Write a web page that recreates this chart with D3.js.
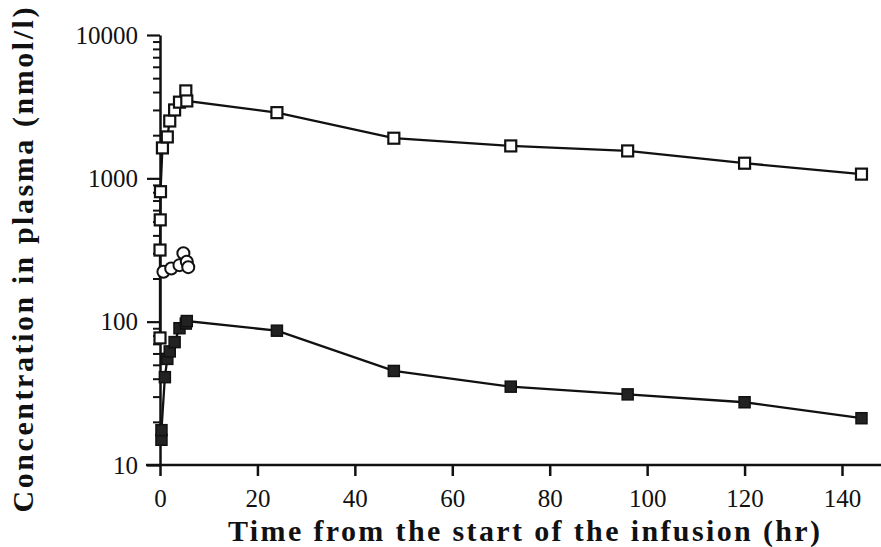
<!DOCTYPE html>
<html>
<head>
<meta charset="utf-8">
<script src="https://cdn.jsdelivr.net/npm/d3@7"></script>
<style>
html,body{margin:0;padding:0;background:#fff;}
svg{display:block;}
text{font-family:"Liberation Serif","Times New Roman",serif;fill:#111;}
</style>
</head>
<body>
<svg id="chart" width="881" height="547"></svg>
<script>
// ---- data ----
const upperTimes  = [0, 0, 0.05, 0.1, 0.5, 1.5, 2, 3, 4, 5.3, 5.5, 24, 48, 72, 96, 120, 144];
const upperValues = [77, 316, 513, 807, 1630, 1945, 2512, 3000, 3400, 4074, 3467, 2873, 1905, 1683, 1553, 1275, 1070];

const lowerTimes  = [0.3, 0.3, 1, 1.5, 2, 3, 4, 5.3, 5.5, 24, 48, 72, 96, 120, 144];
const lowerValues = [15, 17.5, 41, 55, 62, 72, 90, 97, 101, 86.5, 45.3, 35.2, 31.1, 27.4, 21.2];

const circleTimes  = [0.7, 2.3, 4, 4.8, 5.5, 5.8];
const circleValues = [223, 235, 248, 300, 262, 240];

const xTickValues = [0, 20, 40, 60, 80, 100, 120, 140];
const yMajorTicks = [10, 100, 1000, 10000];
const yTickLabels = ["10", "100", "1000", "10000"];
const xTitle = "Time from the start of the infusion (hr)";
const yTitle = "Concentration in plasma (nmol/l)";

// ---- layout ----
const svg = d3.select("#chart");
const W = 881, H = 547;
const x = d3.scaleLinear().domain([0, 140]).range([160, 842]);
const y = d3.scaleLog().domain([10, 10000]).range([465, 35]);

const yMinor = [];
[10, 100, 1000].forEach(d => { for (let k = 2; k <= 9; k++) yMinor.push(d * k); });

const FONT = "'Liberation Serif','Times New Roman',serif";

// y axis: minor ticks
const yMinorAxis = d3.axisLeft(y).tickValues(yMinor).tickSize(7).tickFormat("").tickSizeOuter(0);
const gYm = svg.append("g").attr("transform", `translate(${x(0)},0)`).call(yMinorAxis);
gYm.select(".domain").remove();
gYm.selectAll(".tick line").attr("stroke", "#111").attr("stroke-width", 2);

// y axis: major ticks + labels
const yMajorAxis = d3.axisLeft(y).tickValues(yMajorTicks).tickSize(13)
  .tickFormat((d, i) => yTickLabels[i]).tickPadding(9).tickSizeOuter(0);
const gY = svg.append("g").attr("transform", `translate(${x(0)},0)`).call(yMajorAxis);
gY.select(".domain").attr("stroke", "#111").attr("stroke-width", 2.5);
gY.selectAll(".tick line").attr("stroke", "#111").attr("stroke-width", 2.2);
gY.selectAll(".tick text").attr("font-size", 25).attr("fill", "#111").style("font-family", FONT);

// x axis
const xAxis = d3.axisBottom(x).tickValues(xTickValues).tickSize(11).tickPadding(13).tickSizeOuter(0);
const gX = svg.append("g").attr("transform", `translate(0,${y(10)})`).call(xAxis);
gX.select(".domain").remove();
gX.selectAll(".tick line").attr("stroke", "#111").attr("stroke-width", 2.5);
gX.selectAll(".tick text").attr("font-size", 25).attr("fill", "#111").style("font-family", FONT);
svg.append("line")
  .attr("x1", x(0) - 14).attr("x2", W)
  .attr("y1", y(10)).attr("y2", y(10))
  .attr("stroke", "#111").attr("stroke-width", 2.5);

// lines
const line = d3.line().x(d => x(d[0])).y(d => y(d[1]));
function series(times, values) { return times.map((t, i) => [t, values[i]]); }
const up = series(upperTimes, upperValues);
const lo = series(lowerTimes, lowerValues);
const ci = series(circleTimes, circleValues);

[up, lo, ci].forEach(s => {
  svg.append("path").datum(s).attr("d", line)
    .attr("fill", "none").attr("stroke", "#111").attr("stroke-width", 2.3);
});

const S = 11;
svg.append("g").selectAll("circle").data(ci).join("circle")
  .attr("cx", d => x(d[0])).attr("cy", d => y(d[1])).attr("r", 6)
  .attr("fill", "#fff").attr("stroke", "#111").attr("stroke-width", 2);

svg.append("g").selectAll("rect").data(lo).join("rect")
  .attr("x", d => x(d[0]) - S / 2).attr("y", d => y(d[1]) - S / 2)
  .attr("width", S).attr("height", S)
  .attr("fill", "#222").attr("stroke", "#111").attr("stroke-width", 1.5);

svg.append("g").selectAll("rect").data(up).join("rect")
  .attr("x", d => x(d[0]) - S / 2).attr("y", d => y(d[1]) - S / 2)
  .attr("width", S).attr("height", S)
  .attr("fill", "#fff").attr("stroke", "#111").attr("stroke-width", 2.2);

// titles
svg.append("text").attr("x", 524).attr("y", 541).attr("text-anchor", "middle")
  .attr("font-size", 30).attr("font-weight", "bold")
  .attr("textLength", 592).attr("lengthAdjust", "spacing").text(xTitle);
svg.append("text").attr("transform", "translate(33,260) rotate(-90)")
  .attr("text-anchor", "middle").attr("font-size", 30).attr("font-weight", "bold")
  .attr("textLength", 505).attr("lengthAdjust", "spacing").text(yTitle);
</script>
</body>
</html>
